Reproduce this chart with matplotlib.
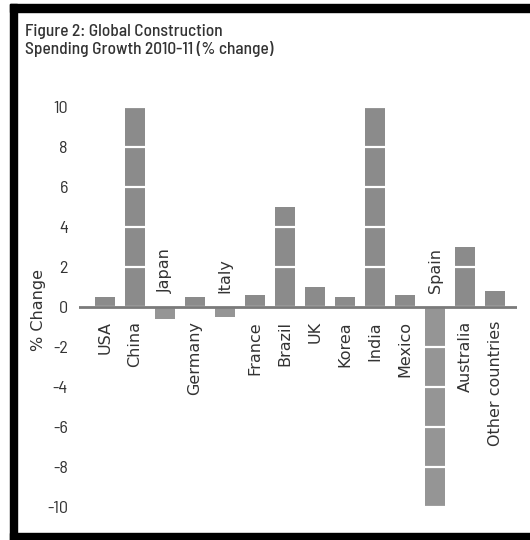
import matplotlib
matplotlib.use("Agg")
import matplotlib.pyplot as plt
from matplotlib.patches import Rectangle

# Construction spending growth by country, 2010-11
countries = ["USA", "China", "Japan", "Germany", "Italy", "France", "Brazil",
             "UK", "Korea", "India", "Mexico", "Spain", "Australia",
             "Other countries"]
growth = [0.5, 10, -0.6, 0.5, -0.5, 0.6, 5, 1.0, 0.5, 10, 0.6, -10, 3, 0.8]
y_ticks = [-10, -8, -6, -4, -2, 0, 2, 4, 6, 8, 10]

narrow = ["Barlow Semi Condensed", "DejaVu Sans"]
text_col = "#333333"

fig = plt.figure(figsize=(5.3, 5.4), dpi=100)
W, H = 530, 540

# frame around the figure (top, left and bottom edges)
for x0, y0, w, h in [(10, 528, 520, 8), (10, 0, 7, 536), (10, 0, 520, 7)]:
    fig.patches.append(Rectangle((x0 / W, y0 / H), w / W, h / H,
                                 transform=fig.transFigure, color="black"))

ax = fig.add_axes([79 / W, 13 / H, 438 / W, 440 / H])
xs = list(range(len(countries)))
colors = ["#8b8b8b" if v >= 0 else "#959595" for v in growth]
ax.bar(xs, growth, width=0.67, color=colors, zorder=1)

ax.set_xlim(-0.87, 13.73)
ax.set_ylim(-11, 11)
ax.set_yticks(y_ticks)
ax.set_yticklabels([str(t) for t in y_ticks], family=narrow, fontsize=13,
                   color=text_col)
ax.set_xticks([])
ax.tick_params(axis="y", length=0, pad=8)
for s in ax.spines.values():
    s.set_visible(False)

# white gridlines only show through the bars
ax.yaxis.grid(True, color="white", lw=1.6)
ax.set_axisbelow(False)
ax.axhline(0, color="#7a7a7a", lw=2, zorder=3)

# country names sit under positive bars and above negative ones
for x, name, v in zip(xs, countries, growth):
    if v >= 0:
        ax.text(x, -0.7, name, rotation=90, ha="center", va="top",
                fontsize=11.5, color=text_col)
    else:
        ax.text(x, 0.7, name, rotation=90, ha="center", va="bottom",
                fontsize=11.5, color=text_col)

fig.text(38 / W, 1 - 310 / H, "% Change", rotation=90, ha="center",
         va="center", fontsize=11.5, color=text_col)

fig.text(25 / W, 1 - 24 / H, "Figure 2: Global Construction\nSpending Growth 2010-11 (% change)",
         ha="left", va="top", family=narrow, fontsize=12.5, weight=500,
         color=text_col, linespacing=1.15)

fig.savefig("out.png", dpi=100)
